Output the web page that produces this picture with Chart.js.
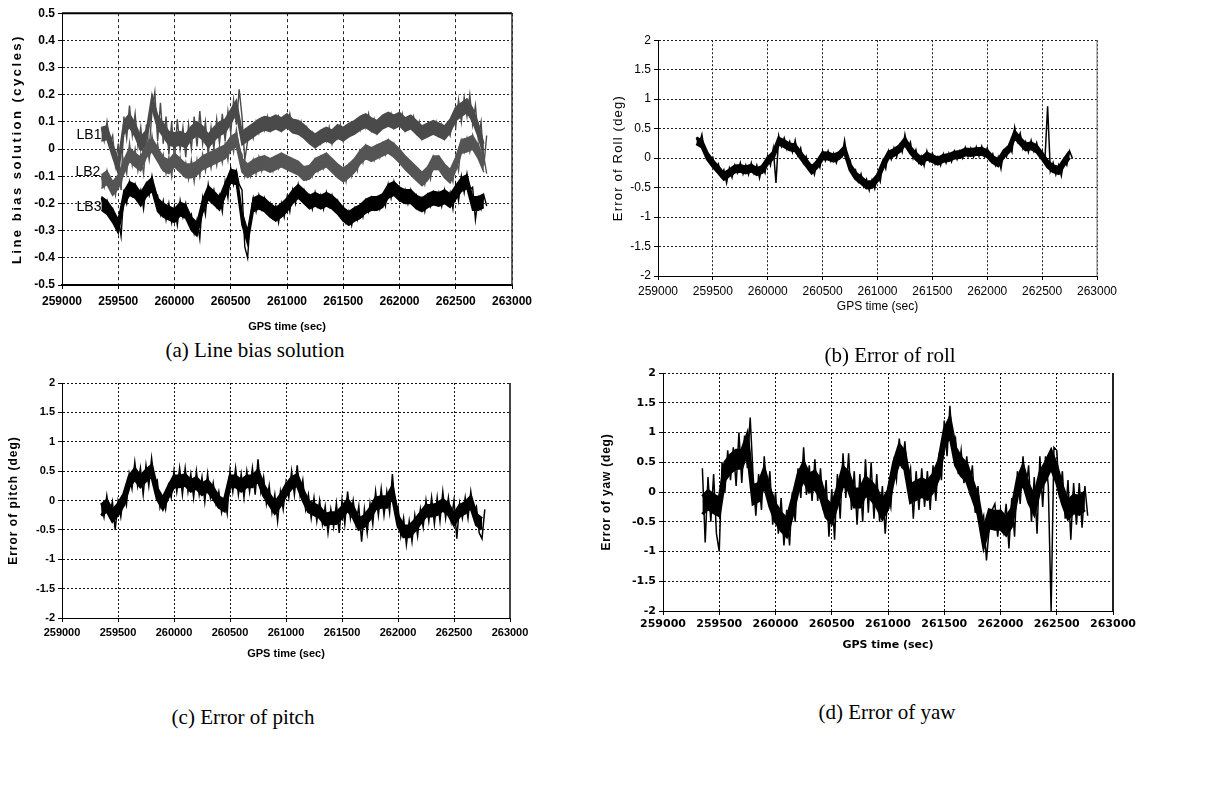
<!DOCTYPE html>
<html lang="en">
<head>
<meta charset="UTF-8">
<title>Line bias and attitude errors</title>
<script src="https://cdn.jsdelivr.net/npm/chart.js"></script>
<style>
  body { margin: 0; background: #fff; width: 1213px; height: 808px; position: relative; overflow: hidden; }
  canvas { position: absolute; }
  .caption {
    position: absolute; transform: translate(-50%, -50%); white-space: nowrap;
    font-family: "Liberation Serif", "Times New Roman", serif; font-size: 21px; color: #000;
  }
</style>
</head>
<body>
<canvas id="biasChart"></canvas>
<canvas id="rollChart"></canvas>
<canvas id="pitchChart"></canvas>
<canvas id="yawChart"></canvas>
<div class="caption" style="left:255px; top:350px">(a) Line bias solution</div>
<div class="caption" style="left:890px; top:355px">(b) Error of roll</div>
<div class="caption" style="left:243px; top:717px">(c) Error of pitch</div>
<div class="caption" style="left:887px; top:712px">(d) Error of yaw</div>

<script>
// GPS time of each sample (sec)
const gpsTime = [
  259350,259375,259400,259425,259450,259475,259500,259525,259550,259575,
  259600,259625,259650,259675,259700,259725,259750,259775,259800,259825,
  259850,259875,259900,259925,259950,259975,260000,260025,260050,260075,
  260100,260125,260150,260175,260200,260225,260250,260275,260300,260325,
  260350,260375,260400,260425,260450,260475,260500,260525,260550,260575,
  260600,260625,260650,260675,260700,260725,260750,260775,260800,260825,
  260850,260875,260900,260925,260950,260975,261000,261025,261050,261075,
  261100,261125,261150,261175,261200,261225,261250,261275,261300,261325,
  261350,261375,261400,261425,261450,261475,261500,261525,261550,261575,
  261600,261625,261650,261675,261700,261725,261750,261775,261800,261825,
  261850,261875,261900,261925,261950,261975,262000,262025,262050,262075,
  262100,262125,262150,262175,262200,262225,262250,262275,262300,262325,
  262350,262375,262400,262425,262450,262475,262500,262525,262550,262575,
  262600,262625,262650,262675,262700,262725,262750,262775
];

// line bias solutions (cycles)
const lineBiasLB1 = [
  0.08, 0.03, 0.10, 0.02, 0.05, -0.06, 0.02, -0.15, 0.12, 0.04,
  0.16, 0.05, 0.13, 0.01, 0.08, -0.04, 0.09, 0.00, 0.14, 0.21,
  0.03, 0.17, 0.02, 0.12, -0.02, 0.10, -0.04, 0.11, 0.00, 0.08,
  -0.03, 0.09, 0.00, 0.12, 0.01, 0.14, 0.02, 0.10, -0.02, 0.08,
  0.00, 0.11, 0.02, 0.13, 0.03, 0.14, 0.06, 0.18, 0.09, 0.22,
  0.12, -0.04, 0.03, 0.08, 0.04, 0.10, 0.06, 0.11, 0.07, 0.12,
  0.07, 0.11, 0.08, 0.12, 0.07, 0.11, 0.08, 0.13, 0.07, 0.10,
  0.06, 0.10, 0.05, 0.08, 0.03, 0.06, 0.01, 0.05, 0.02, 0.07,
  0.03, 0.08, 0.02, 0.07, 0.04, 0.09, 0.03, 0.08, 0.05, 0.09,
  0.06, 0.10, 0.07, 0.12, 0.08, 0.13, 0.07, 0.11, 0.06, 0.10,
  0.08, 0.12, 0.09, 0.13, 0.08, 0.12, 0.09, 0.13, 0.07, 0.11,
  0.08, 0.12, 0.06, 0.10, 0.04, 0.08, 0.05, 0.09, 0.06, 0.10,
  0.05, 0.09, 0.04, 0.08, 0.05, 0.12, 0.08, 0.18, 0.10, 0.19,
  0.12, 0.20, 0.09, 0.16, 0.04, 0.10, -0.06, 0.05
];
const lineBiasLB2 = [
  -0.10, -0.14, -0.08, -0.13, -0.12, -0.17, -0.10, -0.14, -0.04, -0.09,
  0.02, -0.06, 0.00, -0.08, -0.02, -0.09, 0.03, -0.04, 0.05, -0.02,
  0.02, -0.06, -0.02, -0.09, -0.03, -0.10, -0.01, -0.07, -0.03, -0.09,
  -0.05, -0.11, -0.04, -0.12, -0.04, -0.10, -0.02, -0.08, -0.01, -0.07,
  0.00, -0.06, 0.01, -0.05, 0.02, -0.04, 0.05, -0.01, 0.07, 0.00,
  -0.02, -0.10, -0.06, -0.10, -0.04, -0.09, -0.03, -0.08, -0.03, -0.07,
  -0.04, -0.08, -0.03, -0.07, -0.02, -0.06, -0.03, -0.07, -0.04, -0.08,
  -0.05, -0.09, -0.07, -0.11, -0.07, -0.10, -0.04, -0.08, -0.03, -0.07,
  -0.02, -0.06, -0.04, -0.08, -0.06, -0.10, -0.07, -0.12, -0.06, -0.10,
  -0.04, -0.08, -0.01, -0.05, 0.01, -0.03, 0.00, -0.04, 0.01, -0.03,
  0.02, -0.02, 0.03, -0.01, 0.02, -0.03, 0.00, -0.05, -0.03, -0.07,
  -0.05, -0.09, -0.07, -0.11, -0.09, -0.13, -0.07, -0.11, -0.03, -0.07,
  -0.03, -0.07, -0.06, -0.10, -0.08, -0.12, -0.03, -0.08, 0.03, -0.01,
  0.04, -0.01, 0.05, 0.00, 0.02, -0.04, -0.03, -0.09
];
const lineBiasLB3 = [
  -0.18, -0.22, -0.19, -0.24, -0.22, -0.27, -0.25, -0.32, -0.16, -0.20,
  -0.12, -0.17, -0.13, -0.18, -0.15, -0.22, -0.13, -0.17, -0.10, -0.16,
  -0.17, -0.24, -0.19, -0.26, -0.20, -0.27, -0.21, -0.28, -0.19, -0.25,
  -0.20, -0.26, -0.24, -0.31, -0.26, -0.33, -0.18, -0.24, -0.13, -0.19,
  -0.15, -0.21, -0.17, -0.23, -0.12, -0.18, -0.07, -0.13, -0.08, -0.13,
  -0.15, -0.36, -0.40, -0.25, -0.18, -0.23, -0.17, -0.22, -0.18, -0.23,
  -0.20, -0.25, -0.21, -0.27, -0.20, -0.25, -0.18, -0.23, -0.15, -0.20,
  -0.13, -0.18, -0.15, -0.20, -0.17, -0.22, -0.16, -0.21, -0.17, -0.22,
  -0.16, -0.21, -0.17, -0.22, -0.19, -0.24, -0.21, -0.27, -0.23, -0.28,
  -0.22, -0.26, -0.21, -0.25, -0.19, -0.23, -0.18, -0.22, -0.18, -0.22,
  -0.17, -0.21, -0.13, -0.18, -0.12, -0.17, -0.14, -0.19, -0.15, -0.20,
  -0.15, -0.20, -0.17, -0.22, -0.18, -0.23, -0.17, -0.21, -0.16, -0.20,
  -0.16, -0.21, -0.15, -0.20, -0.16, -0.22, -0.13, -0.19, -0.10, -0.16,
  -0.09, -0.15, -0.14, -0.26, -0.18, -0.22, -0.17, -0.21
];

// attitude errors (deg)
const rollError = [
  0.35, 0.24, 0.40, 0.08, 0.10, -0.04, 0.01, -0.20, -0.10, -0.30,
  -0.20, -0.42, -0.17, -0.33, -0.12, -0.25, -0.08, -0.27, -0.12, -0.28,
  -0.08, -0.26, -0.12, -0.34, -0.13, -0.25, 0.03, -0.12, 0.16, -0.42,
  0.38, 0.20, 0.34, 0.15, 0.28, 0.10, 0.30, 0.05, 0.17, -0.08,
  0.03, -0.18, -0.12, -0.28, -0.05, -0.16, 0.12, -0.04, 0.12, -0.05,
  0.08, -0.08, 0.07, 0.02, 0.30, -0.02, -0.03, -0.28, -0.20, -0.40,
  -0.27, -0.48, -0.36, -0.55, -0.37, -0.52, -0.27, -0.40, -0.05, -0.18,
  0.12, -0.02, 0.17, 0.02, 0.22, 0.10, 0.40, 0.16, 0.27, 0.00,
  0.14, -0.08, 0.03, -0.13, 0.12, -0.05, 0.08, -0.10, 0.02, -0.12,
  0.07, -0.08, 0.08, -0.06, 0.12, -0.02, 0.12, 0.00, 0.18, 0.03,
  0.17, 0.02, 0.19, 0.03, 0.20, 0.03, 0.17, -0.02, 0.07, -0.12,
  0.02, -0.18, 0.12, 0.02, 0.22, 0.10, 0.52, 0.28, 0.42, 0.16,
  0.28, 0.10, 0.30, 0.12, 0.26, 0.05, 0.12, -0.05, 0.88, -0.22,
  -0.08, -0.28, -0.12, -0.30, -0.02, -0.12, 0.12, 0.00
];
const pitchError = [
  -0.05, -0.28, 0.08, -0.25, -0.02, -0.50, -0.02, -0.28, 0.10, -0.08,
  0.45, 0.20, 0.65, 0.25, 0.55, 0.10, 0.60, 0.25, 0.72, 0.30,
  0.35, -0.12, 0.05, -0.15, 0.25, 0.05, 0.50, 0.15, 0.55, 0.10,
  0.55, 0.15, 0.45, 0.05, 0.50, 0.10, 0.40, -0.02, 0.45, 0.05,
  0.30, -0.05, 0.15, -0.20, 0.05, -0.22, 0.50, 0.15, 0.55, 0.10,
  0.45, 0.05, 0.50, 0.15, 0.55, 0.10, 0.70, 0.15, 0.40, -0.05,
  0.25, -0.20, 0.10, -0.35, 0.15, -0.15, 0.30, 0.05, 0.50, 0.10,
  0.60, 0.10, 0.35, -0.15, 0.10, -0.30, 0.05, -0.35, 0.00, -0.40,
  -0.10, -0.55, -0.15, -0.45, -0.05, -0.55, 0.00, -0.40, 0.15, -0.30,
  0.00, -0.40, -0.10, -0.70, -0.15, -0.55, -0.05, -0.40, 0.15, -0.25,
  0.20, -0.25, 0.15, -0.20, 0.45, -0.15, -0.10, -0.60, -0.30, -0.75,
  -0.35, -0.70, -0.25, -0.60, -0.15, -0.45, 0.00, -0.35, 0.05, -0.40,
  0.05, -0.35, 0.15, -0.30, 0.05, -0.35, 0.00, -0.65, -0.05, -0.30,
  0.05, -0.30, 0.15, -0.20, -0.10, -0.55, -0.65, -0.15
];
const yawError = [
  0.40, -0.85, 0.25, -0.50, 0.30, -0.70, -1.00, 0.50, 0.00, 0.70,
  0.20, 0.75, 0.10, 1.00, 0.15, 0.95, 0.40, 1.25, 0.30, -0.40,
  0.30, -0.30, 0.60, -0.10, 0.35, -0.55, 0.00, -0.70, -0.10, -0.90,
  -0.30, -0.90, 0.00, -0.50, 0.40, -0.10, 0.75, -0.05, 0.45, -0.15,
  0.55, -0.15, 0.40, -0.30, 0.20, -0.75, 0.05, -0.80, 0.30, -0.45,
  0.65, -0.10, 0.65, -0.30, 0.35, -0.55, 0.30, -0.50, 0.55, -0.35,
  0.50, -0.45, 0.30, -0.50, 0.10, -0.70, 0.00, -0.25, 0.50, 0.20,
  0.90, 0.40, 0.85, 0.20, 0.40, -0.45, 0.35, -0.30, 0.40, -0.25,
  0.35, -0.30, 0.45, -0.15, 0.55, 0.20, 1.20, 0.60, 1.45, 0.75,
  0.90, 0.30, 0.70, 0.15, 0.60, 0.05, 0.45, -0.35, 0.10, -0.55,
  -0.40, -1.15, -0.60, -0.30, -0.20, -0.75, -0.30, -0.65, -0.20, -0.95,
  -0.10, -0.75, 0.35, -0.20, 0.60, 0.00, 0.45, -0.50, 0.25, -0.70,
  0.60, -0.25, 0.60, 0.10, -2.00, 0.75, 0.70, -0.10, 0.35, -0.45,
  0.20, -0.80, 0.15, -0.55, 0.15, -0.60, 0.10, -0.40
];

// dense core of each noisy trace, upper and lower edge every 50 s
const bandTime = [
  259350,259400,259450,259500,259550,259600,259650,259700,259750,259800,
  259850,259900,259950,260000,260050,260100,260150,260200,260250,260300,
  260350,260400,260450,260500,260550,260600,260650,260700,260750,260800,
  260850,260900,260950,261000,261050,261100,261150,261200,261250,261300,
  261350,261400,261450,261500,261550,261600,261650,261700,261750,261800,
  261850,261900,261950,262000,262050,262100,262150,262200,262250,262300,
  262350,262400,262450,262500,262550,262600,262650,262700,262750
];
const coreLB1Upper = [
  0.08, 0.085, 0.02, -0.04, 0.105,  0.13, 0.095, 0.045, 0.07, 0.20,
  0.125, 0.095, 0.065, 0.06, 0.065,  0.055, 0.085, 0.10, 0.085, 0.055,
  0.08, 0.10, 0.11, 0.145, 0.18,  0.065, 0.08, 0.095, 0.11, 0.12,
  0.115, 0.125, 0.115, 0.13, 0.11,  0.105, 0.09, 0.07, 0.055, 0.07,
  0.08, 0.07, 0.09, 0.08, 0.095,  0.105, 0.12, 0.13, 0.115, 0.105,
  0.125, 0.135, 0.125, 0.135, 0.115,  0.125, 0.105, 0.085, 0.095, 0.105,
  0.095, 0.085, 0.11, 0.155, 0.17,  0.185, 0.15, 0.095, 0.02
];
const coreLB1Lower = [
  0.03, 0.035, -0.03, -0.09, 0.055,  0.08, 0.045, -0.005, 0.02, 0.15,
  0.075, 0.045, 0.015, 0.01, 0.015,  0.005, 0.035, 0.05, 0.035, 0.005,
  0.03, 0.05, 0.06, 0.095, 0.13,  0.015, 0.03, 0.045, 0.06, 0.07,
  0.065, 0.075, 0.065, 0.08, 0.06,  0.055, 0.04, 0.02, 0.005, 0.02,
  0.03, 0.02, 0.04, 0.03, 0.045,  0.055, 0.07, 0.08, 0.065, 0.055,
  0.075, 0.085, 0.075, 0.085, 0.065,  0.075, 0.055, 0.035, 0.045, 0.055,
  0.045, 0.035, 0.06, 0.105, 0.12,  0.135, 0.10, 0.045, -0.03
];
const coreLB2Upper = [
  -0.095, -0.08, -0.12, -0.095, -0.04,  0.005, -0.015, -0.03, 0.02, 0.04,
  0.005, -0.03, -0.04, -0.015, -0.035,  -0.055, -0.055, -0.045, -0.025, -0.015,
  -0.005, 0.005, 0.015, 0.045, 0.06,  -0.035, -0.055, -0.04, -0.03, -0.025,
  -0.035, -0.025, -0.015, -0.025, -0.035,  -0.045, -0.065, -0.06, -0.035, -0.025,
  -0.015, -0.035, -0.055, -0.07, -0.055,  -0.035, -0.005, 0.015, 0.005, 0.015,
  0.025, 0.035, 0.02, 0.00, -0.025,  -0.045, -0.065, -0.085, -0.065, -0.025,
  -0.025, -0.055, -0.075, -0.03, 0.035,  0.04, 0.05, 0.015, -0.035
];
const coreLB2Lower = [
  -0.145, -0.13, -0.17, -0.145, -0.09,  -0.045, -0.065, -0.08, -0.03, -0.01,
  -0.045, -0.08, -0.09, -0.065, -0.085,  -0.105, -0.105, -0.095, -0.075, -0.065,
  -0.055, -0.045, -0.035, -0.005, 0.01,  -0.085, -0.105, -0.09, -0.08, -0.075,
  -0.085, -0.075, -0.065, -0.075, -0.085,  -0.095, -0.115, -0.11, -0.085, -0.075,
  -0.065, -0.085, -0.105, -0.12, -0.105,  -0.085, -0.055, -0.035, -0.045, -0.035,
  -0.025, -0.015, -0.03, -0.05, -0.075,  -0.095, -0.115, -0.135, -0.115, -0.075,
  -0.075, -0.105, -0.125, -0.08, -0.015,  -0.01, 0.00, -0.035, -0.085
];
const coreLB3Upper = [
  -0.175, -0.19, -0.22, -0.26, -0.155,  -0.12, -0.13, -0.16, -0.125, -0.105,
  -0.18, -0.20, -0.21, -0.22, -0.195,  -0.205, -0.25, -0.27, -0.185, -0.135,
  -0.155, -0.175, -0.125, -0.075, -0.08,  -0.23, -0.30, -0.18, -0.17, -0.18,
  -0.20, -0.215, -0.20, -0.18, -0.15,  -0.13, -0.15, -0.17, -0.16, -0.17,
  -0.16, -0.17, -0.19, -0.215, -0.23,  -0.215, -0.205, -0.185, -0.175, -0.175,
  -0.165, -0.13, -0.12, -0.14, -0.15,  -0.15, -0.17, -0.18, -0.165, -0.155,
  -0.16, -0.15, -0.165, -0.135, -0.105,  -0.095, -0.175, -0.175, -0.165
];
const coreLB3Lower = [
  -0.225, -0.24, -0.27, -0.31, -0.205,  -0.17, -0.18, -0.21, -0.175, -0.155,
  -0.23, -0.25, -0.26, -0.27, -0.245,  -0.255, -0.30, -0.32, -0.235, -0.185,
  -0.205, -0.225, -0.175, -0.125, -0.13,  -0.28, -0.35, -0.23, -0.22, -0.23,
  -0.25, -0.265, -0.25, -0.23, -0.20,  -0.18, -0.20, -0.22, -0.21, -0.22,
  -0.21, -0.22, -0.24, -0.265, -0.28,  -0.265, -0.255, -0.235, -0.225, -0.225,
  -0.215, -0.18, -0.17, -0.19, -0.20,  -0.20, -0.22, -0.23, -0.215, -0.205,
  -0.21, -0.20, -0.215, -0.185, -0.155,  -0.145, -0.225, -0.225, -0.215
];
const coreRollUpper = [
  0.345, 0.29, 0.08, -0.045, -0.15,  -0.26, -0.20, -0.135, -0.125, -0.15,
  -0.12, -0.18, -0.14, 0.005, 0.10,  0.34, 0.295, 0.24, 0.225, 0.095,
  -0.025, -0.15, -0.055, 0.09, 0.085,  0.05, 0.095, 0.19, -0.105, -0.25,
  -0.325, -0.405, -0.395, -0.285, -0.065,  0.10, 0.145, 0.21, 0.33, 0.185,
  0.08, 0.00, 0.085, 0.04, 0.00,  0.045, 0.06, 0.10, 0.11, 0.155,
  0.145, 0.16, 0.165, 0.125, 0.025,  -0.03, 0.12, 0.21, 0.45, 0.34,
  0.24, 0.26, 0.205, 0.085, -0.05,  -0.13, -0.16, -0.02, 0.11
];
const coreRollLower = [
  0.245, 0.19, -0.02, -0.145, -0.25,  -0.36, -0.30, -0.235, -0.225, -0.25,
  -0.22, -0.28, -0.24, -0.095, 0.00,  0.24, 0.195, 0.14, 0.125, -0.005,
  -0.125, -0.25, -0.155, -0.01, -0.015,  -0.05, -0.005, 0.09, -0.205, -0.35,
  -0.425, -0.505, -0.495, -0.385, -0.165,  0.00, 0.045, 0.11, 0.23, 0.085,
  -0.02, -0.10, -0.015, -0.06, -0.10,  -0.055, -0.04, 0.00, 0.01, 0.055,
  0.045, 0.06, 0.065, 0.025, -0.075,  -0.13, 0.02, 0.11, 0.35, 0.24,
  0.14, 0.16, 0.105, -0.015, -0.15,  -0.23, -0.26, -0.12, 0.01
];
const corePitchUpper = [
  -0.075, 0.005, -0.17, -0.06, 0.10,  0.415, 0.54, 0.415, 0.515, 0.60,
  0.205, 0.04, 0.24, 0.415, 0.415,  0.44, 0.34, 0.39, 0.28, 0.34,
  0.215, 0.065, 0.005, 0.415, 0.415,  0.34, 0.415, 0.415, 0.515, 0.265,
  0.115, -0.035, 0.09, 0.265, 0.39,  0.44, 0.19, -0.01, -0.06, -0.11,
  -0.235, -0.21, -0.21, -0.11, 0.015,  -0.11, -0.31, -0.26, -0.135, 0.04,
  0.065, 0.065, 0.24, -0.26, -0.435,  -0.435, -0.335, -0.21, -0.085, -0.085,
  -0.06, 0.015, -0.06, -0.235, -0.085,  -0.035, 0.065, -0.235, -0.31
];
const corePitchLower = [
  -0.255, -0.175, -0.35, -0.24, -0.08,  0.235, 0.36, 0.235, 0.335, 0.42,
  0.025, -0.14, 0.06, 0.235, 0.235,  0.26, 0.16, 0.21, 0.10, 0.16,
  0.035, -0.115, -0.175, 0.235, 0.235,  0.16, 0.235, 0.235, 0.335, 0.085,
  -0.065, -0.215, -0.09, 0.085, 0.21,  0.26, 0.01, -0.19, -0.24, -0.29,
  -0.415, -0.39, -0.39, -0.29, -0.165,  -0.29, -0.49, -0.44, -0.315, -0.14,
  -0.115, -0.115, 0.06, -0.44, -0.615,  -0.615, -0.515, -0.39, -0.265, -0.265,
  -0.24, -0.165, -0.24, -0.415, -0.265,  -0.215, -0.115, -0.415, -0.49
];
const coreYawUpper = [
  -0.075, 0.025, -0.05, -0.10, 0.50,  0.625, 0.70, 0.70, 0.975, 0.10,
  0.15, 0.40, 0.05, -0.20, -0.35,  -0.45, -0.10, 0.30, 0.50, 0.30,
  0.35, 0.20, -0.125, -0.225, 0.075,  0.425, 0.325, 0.05, 0.05, 0.25,
  0.175, 0.05, -0.15, 0.025, 0.50,  0.80, 0.675, 0.125, 0.175, 0.225,
  0.175, 0.30, 0.525, 1.05, 1.25,  0.75, 0.575, 0.475, 0.20, -0.075,
  -0.625, -0.30, -0.325, -0.325, -0.425,  -0.275, 0.225, 0.45, 0.125, -0.075,
  0.325, 0.50, 0.70, 0.45, 0.10,  -0.15, -0.05, -0.075, 0.00
];
const coreYawLower = [
  -0.375, -0.275, -0.35, -0.40, 0.20,  0.325, 0.40, 0.40, 0.675, -0.20,
  -0.15, 0.10, -0.25, -0.50, -0.65,  -0.75, -0.40, 0.00, 0.20, 0.00,
  0.05, -0.10, -0.425, -0.525, -0.225,  0.125, 0.025, -0.25, -0.25, -0.05,
  -0.125, -0.25, -0.45, -0.275, 0.20,  0.50, 0.375, -0.175, -0.125, -0.075,
  -0.125, 0.00, 0.225, 0.75, 0.95,  0.45, 0.275, 0.175, -0.10, -0.375,
  -0.925, -0.60, -0.625, -0.625, -0.725,  -0.575, -0.075, 0.15, -0.175, -0.375,
  0.025, 0.20, 0.40, 0.15, -0.20,  -0.45, -0.35, -0.375, -0.30
];

const PAD_TOP = 10;
const PAD_RIGHT = 30;

const series = (values) => gpsTime.map((t, i) => ({ x: t, y: values[i] }));
const bandSeries = (values) => bandTime.map((t, i) => ({ x: t, y: values[i] }));
const fmtY = (v) => String(Number(v.toFixed(2)));

// trace = noisy line plus its filled dense core (edge stroke thickens the core a little)
function trace(name, values, upper, lower, color, width, edge) {
  return [
    { label: name, data: series(values), borderColor: color, borderWidth: width },
    { label: name + ' core', data: bandSeries(upper), borderWidth: edge, borderColor: color,
      backgroundColor: color, fill: '+1' },
    { label: name + ' core low', data: bandSeries(lower), borderWidth: edge, borderColor: color, fill: false }
  ];
}

// closes the plot box on the top and right edges
const framePlugin = {
  id: 'frame',
  afterDraw(chart, args, opts) {
    const { ctx, chartArea: a } = chart;
    ctx.save();
    if (opts.top) {
      ctx.strokeStyle = opts.top.color; ctx.lineWidth = opts.top.width;
      ctx.beginPath(); ctx.moveTo(a.left, a.top); ctx.lineTo(a.right, a.top); ctx.stroke();
    }
    if (opts.right) {
      ctx.strokeStyle = opts.right.color; ctx.lineWidth = opts.right.width;
      ctx.beginPath(); ctx.moveTo(a.right, a.top); ctx.lineTo(a.right, a.bottom); ctx.stroke();
    }
    ctx.restore();
  }
};

// axis titles, drawn by hand so the letter spacing can be set
const axisTitlePlugin = {
  id: 'axisTitles',
  afterDraw(chart, args, o) {
    const { ctx, chartArea: a } = chart;
    ctx.save();
    ctx.fillStyle = '#000';
    ctx.textAlign = 'center';
    ctx.textBaseline = 'middle';
    ctx.font = o.xFont;
    ctx.letterSpacing = (o.xSpacing || 0) + 'px';
    ctx.fillText(o.xText, (a.left + a.right) / 2, a.bottom + o.xDy);
    ctx.translate(a.left - o.yDx, (a.top + a.bottom) / 2);
    ctx.rotate(-Math.PI / 2);
    ctx.font = o.yFont;
    ctx.letterSpacing = (o.ySpacing || 0) + 'px';
    ctx.fillText(o.yText, 0, 0);
    ctx.restore();
  }
};

// series names written beside the start of each trace
const tagPlugin = {
  id: 'tags',
  afterDatasetsDraw(chart, args, o) {
    if (!o.items) return;
    const { ctx, scales } = chart;
    ctx.save();
    ctx.fillStyle = '#000';
    ctx.font = o.font;
    ctx.textAlign = 'center';
    ctx.textBaseline = 'middle';
    o.items.forEach(it => ctx.fillText(it.text, scales.x.getPixelForValue(it.x), scales.y.getPixelForValue(it.y)));
    ctx.restore();
  }
};

function makePanel(cfg, datasets) {
  const canvas = document.getElementById(cfg.id);
  const left = cfg.plot.l - cfg.axisW;
  const top = cfg.plot.t - PAD_TOP;
  const width = cfg.plot.r + PAD_RIGHT - left;
  const height = cfg.plot.b + cfg.axisH - top;
  canvas.width = width; canvas.height = height;
  canvas.style.left = left + 'px'; canvas.style.top = top + 'px';
  canvas.style.width = width + 'px'; canvas.style.height = height + 'px';

  return new Chart(canvas, {
    type: 'line',
    data: { datasets },
    options: {
      responsive: false,
      animation: false,
      devicePixelRatio: 1,
      layout: { padding: { top: PAD_TOP, right: PAD_RIGHT, left: 0, bottom: 0 } },
      elements: { point: { radius: 0 }, line: { tension: 0 } },
      plugins: {
        legend: { display: false },
        tooltip: { enabled: false },
        frame: cfg.frame,
        axisTitles: cfg.titles,
        tags: cfg.tags || {}
      },
      scales: {
        x: {
          type: 'linear', min: 259000, max: 263000,
          afterFit(s) { s.height = cfg.axisH; },
          ticks: { stepSize: 500, autoSkip: false, maxRotation: 0, padding: cfg.xTickPad,
                   color: '#000', font: cfg.tickFont, callback: v => String(v) },
          grid: { color: cfg.gridColor, lineWidth: 1, tickLength: 4, tickColor: '#000' },
          border: { color: '#000', width: cfg.xAxisWidth, dash: cfg.xDash }
        },
        y: {
          min: cfg.yMin, max: cfg.yMax,
          afterFit(s) { s.width = cfg.axisW; },
          ticks: { stepSize: cfg.yStep, autoSkip: false, padding: 3,
                   color: '#000', font: cfg.tickFont, callback: fmtY },
          grid: { color: cfg.gridColor, lineWidth: 1, tickLength: 4, tickColor: '#000' },
          border: { color: '#000', width: 1, dash: [2, 2] }
        }
      }
    },
    plugins: [framePlugin, axisTitlePlugin, tagPlugin]
  });
}

const sans = '"Liberation Sans", Arial, sans-serif';
const wide = '"DejaVu Sans", Verdana, sans-serif';

// (a) line bias solution
makePanel({
  id: 'biasChart', plot: { l: 62, t: 13, r: 512, b: 285 }, axisW: 60, axisH: 50,
  yMin: -0.5, yMax: 0.5, yStep: 0.1, xTickPad: 5, xAxisWidth: 2, xDash: [3, 3],
  gridColor: '#222', tickFont: { family: sans, weight: 'bold', size: 12 },
  frame: { top: { color: '#000', width: 2 }, right: { color: '#333', width: 1.5 } },
  titles: { xText: 'GPS time (sec)', xFont: 'bold 11px ' + sans, xDy: 42,
            yText: 'Line bias solution (cycles)', yFont: 'bold 13px ' + sans, ySpacing: 2.5, yDx: 45 },
  tags: { font: '14px ' + sans, items: [
    { text: 'LB1', x: 259240, y: 0.05 },
    { text: 'LB2', x: 259230, y: -0.086 },
    { text: 'LB3', x: 259240, y: -0.214 }
  ] }
}, [
  ...trace('LB3', lineBiasLB3, coreLB3Upper, coreLB3Lower, '#000', 1.4, 1.5),
  ...trace('LB2', lineBiasLB2, coreLB2Upper, coreLB2Lower, '#555', 1.4, 1.5),
  ...trace('LB1', lineBiasLB1, coreLB1Upper, coreLB1Lower, '#4a4a4a', 1.4, 1.5)
]);

// (b) roll
makePanel({
  id: 'rollChart', plot: { l: 658, t: 40, r: 1097, b: 276 }, axisW: 58, axisH: 40,
  yMin: -2, yMax: 2, yStep: 0.5, xTickPad: 4, xAxisWidth: 1, xDash: [2, 2],
  gridColor: '#222', tickFont: { family: sans, size: 12 },
  frame: { right: { color: '#777', width: 1 } },
  titles: { xText: 'GPS time (sec)', xFont: '12px ' + sans, xDy: 31,
            yText: 'Error of Roll (deg)', yFont: '13px ' + sans, ySpacing: 1.2, yDx: 40 }
}, trace('Roll', rollError, coreRollUpper, coreRollLower, '#000', 1.5, 3));

// (c) pitch
makePanel({
  id: 'pitchChart', plot: { l: 62, t: 383, r: 510, b: 618 }, axisW: 60, axisH: 45,
  yMin: -2, yMax: 2, yStep: 0.5, xTickPad: 4, xAxisWidth: 1, xDash: [2, 2],
  gridColor: '#111', tickFont: { family: sans, weight: 'bold', size: 11 },
  frame: { right: { color: '#444', width: 2 } },
  titles: { xText: 'GPS time (sec)', xFont: 'bold 11px ' + sans, xDy: 36,
            yText: 'Error of pitch (deg)', yFont: 'bold 12px ' + sans, ySpacing: 1, yDx: 48 }
}, trace('Pitch', pitchError, corePitchUpper, corePitchLower, '#000', 1.5, 3));

// (d) yaw
makePanel({
  id: 'yawChart', plot: { l: 663, t: 373, r: 1113, b: 611 }, axisW: 67, axisH: 42,
  yMin: -2, yMax: 2, yStep: 0.5, xTickPad: 3, xAxisWidth: 1, xDash: [2, 2],
  gridColor: '#111', tickFont: { family: wide, weight: 'bold', size: 11 },
  frame: { right: { color: '#222', width: 2 } },
  titles: { xText: 'GPS time (sec)', xFont: 'bold 11px ' + wide, xDy: 34,
            yText: 'Error of yaw (deg)', yFont: 'bold 12px ' + sans, ySpacing: 0.8, yDx: 56 }
}, trace('Yaw', yawError, coreYawUpper, coreYawLower, '#000', 1.5, 3));
</script>
</body>
</html>
